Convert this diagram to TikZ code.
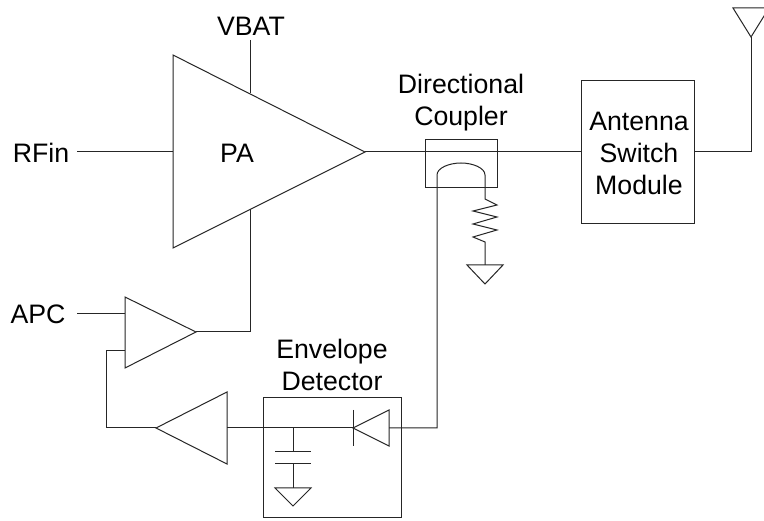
\documentclass[tikz,border=0pt]{standalone}
\usepackage{fontspec}
\setmainfont{Liberation Sans}
\tikzset{
  wire/.style={draw=black!85, line width=1pt, line join=miter},
  lbl/.style={font=\fontsize{26.7}{32}\selectfont, align=center, inner sep=0pt, text=black}
}
\begin{document}
\begin{tikzpicture}[x=1pt,y=-1pt]
\useasboundingbox (0,0) rectangle (764,521);
\clip (0,0) rectangle (764,521);
\fill[white] (0,0) rectangle (764,521);
% shapes
\draw[wire] (173,55) -- (173,248) -- (365,152) -- cycle;
\draw[wire] (125,297) -- (125,368) -- (196,332) -- cycle;
\draw[wire] (227,392) -- (227,464) -- (156,428) -- cycle;
\draw[wire] (425,140) rectangle (497,188);
\draw[wire] (581,81) rectangle (694,224);
\draw[wire] (263,398) rectangle (401,518);
% named points
\coordinate (rfinL) at (77,152);
\coordinate (rfinR) at (173,152);
\coordinate (vbT) at (250,40);
\coordinate (vbB) at (250,93);
\coordinate (paB) at (250,209);
\coordinate (apcO) at (196,332);
\coordinate (apcL) at (77,314);
\coordinate (apcR) at (125,314);
\coordinate (fbA) at (125,351);
\coordinate (fbB) at (156,428);
\coordinate (paO) at (365,152);
\coordinate (swL) at (581,152);
\coordinate (swR) at (694,152);
\coordinate (antT) at (751,37);
\coordinate (amp3R) at (227,428);
\coordinate (dTip) at (353,428);
\coordinate (dBase) at (389,428);
\coordinate (capTop) at (293,428);
% connectors
\draw[wire] (rfinL) -- (rfinR);
\draw[wire] (vbT) -- (vbB);
\draw[wire] (paB) |- (apcO);
\draw[wire] (apcL) -- (apcR);
\draw[wire] (fbA) -- (106,351) -- (106,428) -- (fbB);
\draw[wire] (paO) -- (swL);
\draw[wire] (swR) -| (antT);
\draw[wire] (733,8) -- (769,8) -- (antT) -- cycle;
\draw[wire] (amp3R) -- (dTip);
% diode
\draw[wire] (353,410) -- (353,446);
\draw[wire] (dTip) -- (389,410) -- (389,446) -- cycle;
\draw[wire] (dBase) -- (437,428) -- (437,175) .. controls (437,168) and (449,163) .. (461,163) .. controls (473,163) and (485,168) .. (485,175) -- (485,199)
  -- (497,205) -- (473,211) -- (497,217) -- (473,224) -- (497,230) -- (473,237) -- (485,242) -- (485,265);
\draw[wire] (467,265) -- (503,265) -- (485,284) -- cycle;
% capacitor
\draw[wire] (capTop) -- (293,452);
\draw[wire] (275,452) -- (311,452);
\draw[wire] (275,464) -- (311,464);
\draw[wire] (293,464) -- (293,488);
\draw[wire] (275,488) -- (311,488) -- (293,506) -- cycle;
% labels
\node[lbl] (tRF) at (41,153) {RFin};
\node[lbl] (tVB) at (251,26) {VBAT};
\node[lbl] (tPA) at (237,153) {PA};
\node[lbl] (tAPC) at (38,314) {APC};
\node[lbl] (tDC) at (461,102.5) {Directional\\Coupler};
\node[lbl] (tAS) at (639,153) {Antenna\\Switch\\Module};
\node[lbl] (tED) at (332,364.5) {Envelope\\Detector};
\end{tikzpicture}
\end{document}
